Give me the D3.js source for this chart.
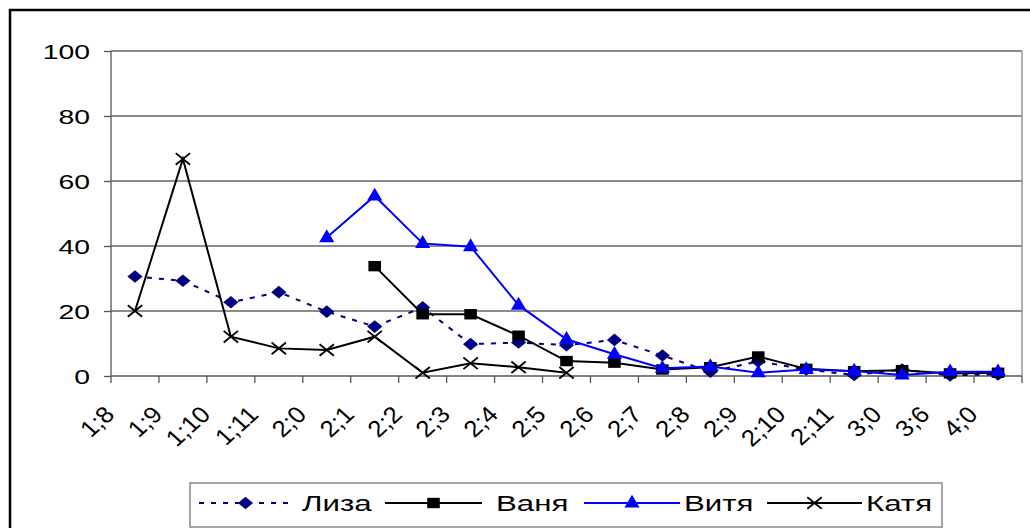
<!DOCTYPE html>
<html><head><meta charset="utf-8">
<script src="https://cdn.jsdelivr.net/npm/d3@7"></script>
<style>body{margin:0;background:#fff}svg{display:block}text{font-family:"Liberation Sans",Arial,sans-serif;fill:#000}</style>
</head><body><svg id="c" width="1030" height="528"></svg>
<script>
const categories = ["1;8","1;9","1;10","1;11","2;0","2;1","2;2","2;3","2;4","2;5","2;6","2;7","2;8","2;9","2;10","2;11","3;0","3;6","4;0"];
const liza  = [30.6,29.3,22.7,25.8,19.8,15.2,21.1,9.8,10.3,9.5,11.1,6.3,1.3,4.5,2,0.3,2,0.2,0.5];
const vanya = [null,null,null,null,null,33.8,19,19,12.4,4.6,4.1,2.0,2.7,6.0,2.2,1.5,1.8,0.8,1];
const vitya = [null,null,null,null,42.6,55.4,40.8,39.8,21.8,11.3,6.7,2.4,2.9,1,2,1.5,0.3,1.3,1.3];
const katya = [20,66.8,12.1,8.5,8,12.1,1,3.9,2.7,1,null,null,null,null,null,null,null,null,null];
const seriesNames = ["Лиза","Ваня","Витя","Катя"];
const yTicks = [0,20,40,60,80,100];

const svg = d3.select("#c");
const L=111,R=1022,T=51,B=376;
const x = d3.scaleBand().domain(categories).range([L,R]);
const y = d3.scaleLinear().domain([0,100]).range([B,T]);
const cx = c => x(c)+x.bandwidth()/2;
const SX = 1.35;

// outer frame
svg.append("rect").attr("x",10).attr("y",10).attr("width",1040).attr("height",540)
  .attr("fill","none").attr("stroke","#000").attr("stroke-width",2.5);

// gridlines
svg.append("g").selectAll("line").data(yTicks.filter(d=>d>0)).join("line")
  .attr("x1",L).attr("x2",R).attr("y1",d=>y(d)).attr("y2",d=>y(d))
  .attr("stroke","#666").attr("stroke-width",1.3);
// right plot border
svg.append("line").attr("x1",R).attr("x2",R).attr("y1",T).attr("y2",B).attr("stroke","#999").attr("stroke-width",1.5);

// y axis
const ya = svg.append("g").attr("transform",`translate(${L},0)`)
  .call(d3.axisLeft(y).tickValues(yTicks).tickSize(7).tickPadding(0));
ya.select(".domain").attr("stroke","#555").attr("stroke-width",1.3).attr("d",`M0,${T}V${B}`);
ya.selectAll(".tick line").attr("stroke","#555").attr("stroke-width",1.3);
ya.selectAll(".tick text").attr("x",0).attr("dy","0.35em")
  .attr("transform",`translate(-21,0) scale(${SX},1)`)
  .style("font-size","21px").attr("font-family",null);

// x axis
const xa = svg.append("g").attr("transform",`translate(0,${B})`);
xa.append("line").attr("x1",L).attr("x2",R).attr("stroke","#555").attr("stroke-width",1.3);
const bounds = categories.map(c=>x(c)).concat([R]);
xa.selectAll("line.tk").data(bounds).join("line").attr("class","tk")
  .attr("x1",d=>d).attr("x2",d=>d).attr("y1",0).attr("y2",7).attr("stroke","#555").attr("stroke-width",1.3);
xa.selectAll("text").data(categories).join("text")
  .attr("text-anchor","end")
  .attr("transform",d=>`translate(${cx(d)-19},${40}) scale(1.12,1) rotate(-45)`)
  .style("font-size","23px").text(d=>d);

// markers
function markerPath(kind){
  if(kind==="diamond") return "M0,-6.3L7.6,0L0,6.3L-7.6,0Z";
  if(kind==="square") return "M-6.3,-5.2H6.3V5.2H-6.3Z";
  if(kind==="triangle") return "M0,-8.3L7.6,4.6L-7.6,4.6Z";
  if(kind==="x") return "M-7.2,-5.8L7.2,5.8M-7.2,5.8L7.2,-5.8";
}
const series = [
  {name:seriesNames[0], values:liza,  color:"#000080", dash:"5,7", marker:"diamond"},
  {name:seriesNames[1], values:vanya, color:"#000000", dash:null,  marker:"square"},
  {name:seriesNames[2], values:vitya, color:"#0000ff", dash:null,  marker:"triangle"},
  {name:seriesNames[3], values:katya, color:"#000000", dash:null,  marker:"x"}
];
const line = d3.line().defined(d=>d.v!=null).x(d=>cx(d.c)).y(d=>y(d.v));
series.forEach(s=>{
  const pts = s.values.map((v,i)=>({c:categories[i],v}));
  const g = svg.append("g");
  g.append("path").attr("d",line(pts)).attr("fill","none").attr("stroke",s.color)
    .attr("stroke-width",2).attr("stroke-dasharray",s.dash);
  g.selectAll("path.m").data(pts.filter(d=>d.v!=null)).join("path").attr("class","m")
    .attr("transform",d=>`translate(${cx(d.c)},${y(d.v)})`)
    .attr("d",markerPath(s.marker))
    .attr("fill",s.marker==="x"?"none":s.color)
    .attr("stroke",s.color).attr("stroke-width",s.marker==="x"?1.8:0);
});

// legend
const lg = svg.append("g");
lg.append("rect").attr("x",190).attr("y",483).attr("width",752).attr("height",44)
  .attr("fill","#fff").attr("stroke","#888").attr("stroke-width",1.5);
const legPos = [{l:199,r:292,t:302},{l:385,r:482,t:496},{l:584,r:680,t:684},{l:767,r:862,t:866}];
const ly = 503;
series.forEach((s,i)=>{
  const p = legPos[i];
  lg.append("line").attr("x1",p.l).attr("x2",p.r).attr("y1",ly).attr("y2",ly)
    .attr("stroke",s.color).attr("stroke-width",2).attr("stroke-dasharray",s.dash);
  lg.append("path").attr("transform",`translate(${(p.l+p.r)/2},${ly})`).attr("d",markerPath(s.marker))
    .attr("fill",s.marker==="x"?"none":s.color).attr("stroke",s.color).attr("stroke-width",s.marker==="x"?1.8:0);
  lg.append("text").attr("transform",`translate(${p.t},${ly}) scale(1.42,1)`).attr("dy","0.35em")
    .style("font-size","22px").text(s.name);
});
</script></body></html>
